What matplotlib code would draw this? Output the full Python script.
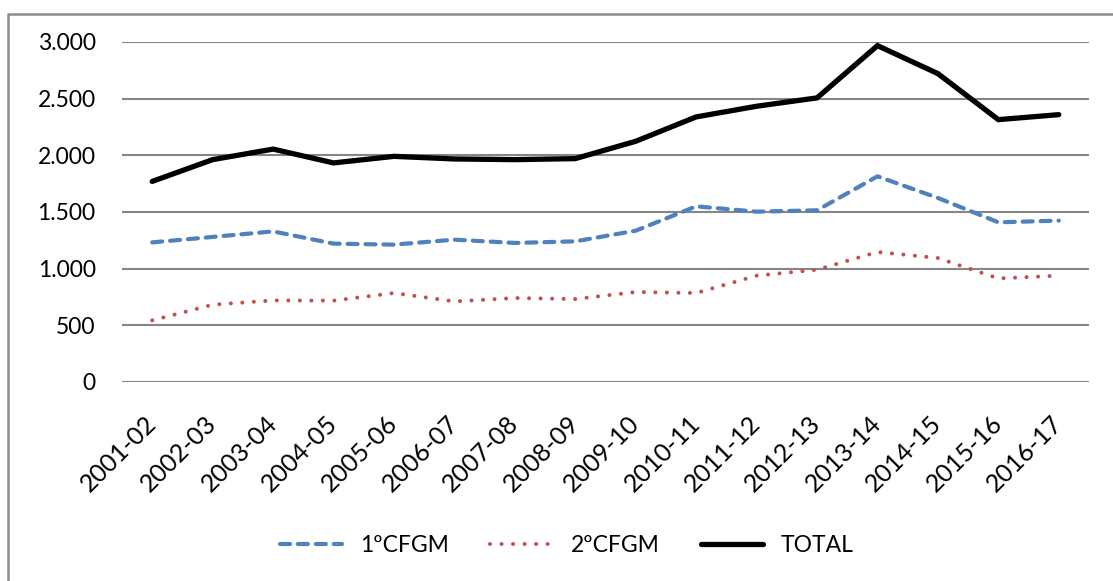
import matplotlib.pyplot as plt
from matplotlib.lines import Line2D
from matplotlib.ticker import FuncFormatter

# school years on the x axis
cursos = ["2001-02", "2002-03", "2003-04", "2004-05", "2005-06", "2006-07",
          "2007-08", "2008-09", "2009-10", "2010-11", "2011-12", "2012-13",
          "2013-14", "2014-15", "2015-16", "2016-17"]

primero = [1232, 1280, 1329, 1221, 1212, 1256, 1227, 1241, 1335, 1550,
           1503, 1515, 1815, 1624, 1409, 1424]
segundo = [544, 682, 720, 718, 785, 711, 741, 732, 794, 785,
           938, 991, 1147, 1094, 914, 938]
total = [1770, 1962, 2055, 1933, 1991, 1968, 1962, 1971, 2124, 2339,
         2433, 2507, 2968, 2721, 2315, 2359]

plt.rcParams['font.family'] = ['Lato', 'DejaVu Sans']

W, H = 1113, 581
fig = plt.figure(figsize=(W / 100, H / 100), dpi=100)
ax = fig.add_axes([122 / W, 1 - 382 / H, (1089 - 122) / W, (382 - 42) / H])

x = range(len(cursos))
ax.plot(x, primero, color="#4F81BD", lw=3.0, linestyle=(0, (2.4, 1.9)),
        dash_capstyle="round", label="1ºCFGM")
ax.plot(x, segundo, color="#C0504D", lw=2.9, linestyle=(0, (0.01, 2.85)),
        dash_capstyle="round", label="2ºCFGM")
ax.plot(x, total, color="black", lw=3.8, solid_capstyle="round",
        solid_joinstyle="miter", label="TOTAL")

ax.set_xlim(-0.5, len(cursos) - 0.5)
ax.set_ylim(0, 3000)
ax.set_yticks(range(0, 3001, 500))
ax.yaxis.set_major_formatter(FuncFormatter(lambda v, p: f"{int(v):,}".replace(",", ".")))
ax.grid(axis="y", color="#868686", lw=1.5)
ax.set_axisbelow(True)
for s in ax.spines.values():
    s.set_visible(False)

ax.set_xticks(list(x))
ax.set_xticklabels(cursos, rotation=45, ha="right", va="center",
                   rotation_mode="anchor", fontsize=18)
ax.tick_params(axis="x", length=0, pad=27)
ax.tick_params(axis="y", length=0, pad=19, labelsize=16.5)

leg = fig.legend(loc="center", bbox_to_anchor=(567 / W, 1 - 546 / H), ncol=3,
                 frameon=False, fontsize=16.5, handlelength=2.7, columnspacing=1.8,
                 handletextpad=0.8)

# outer chart frame (only left and top edges are visible)
fig.add_artist(Line2D([8 / W, 8 / W, 1], [0, 1 - 14 / H, 1 - 14 / H],
                      transform=fig.transFigure, color="#8C8C8C", lw=1.8))

fig.savefig("out.png", dpi=100)
